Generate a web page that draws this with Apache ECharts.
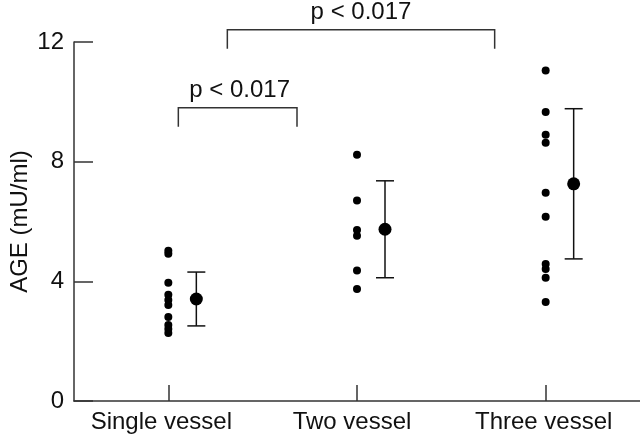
<!DOCTYPE html>
<html>
<head>
<meta charset="utf-8">
<script src="https://cdn.jsdelivr.net/npm/echarts@6/dist/echarts.min.js"></script>
<style>
  html, body { margin: 0; padding: 0; background: #fff; }
  #chart { width: 640px; height: 436px; }
</style>
</head>
<body>
<div id="chart"></div>
<script>
// groups and individual readings (mU/ml)
const categories = ['Single vessel', 'Two vessel', 'Three vessel']
const singleVessel = [5.02, 4.92, 3.95, 3.55, 3.38, 3.21, 2.81, 2.54, 2.41, 2.27]
const twoVessel = [8.23, 6.70, 5.72, 5.52, 4.36, 3.74]
const threeVessel = [11.05, 9.66, 8.90, 8.63, 6.96, 6.16, 4.58, 4.41, 4.12, 3.31]

// mean and SD range per group
const means = [3.41, 5.74, 7.26]
const upper = [4.31, 7.36, 9.77]
const lower = [2.51, 4.12, 4.75]

// significance brackets: [from group, to group, bracket level]
const brackets = [[0, 1, 9.80], [0, 2, 12.41]]
const bracketText = ['p < 0.017', 'p < 0.017']

const yMin = 0, yMax = 12, yStep = 4

// pixel layout bits (not data)
const meanShift = 28
const bracketInset = [[10, -60], [59, -51]]
const bracketDrop = 19
const labelPad = [14, 10, 4]

const font = '"Liberation Sans", Arial, Helvetica, sans-serif'
const fs = 24
const ink = '#111'

const chart = echarts.init(document.getElementById('chart'))

const groups = [singleVessel, twoVessel, threeVessel]
const dots = []
groups.forEach((g, i) => g.forEach((v) => dots.push([i, v])))

chart.setOption({
  animation: false,
  grid: { left: 74, right: 0, top: 42, bottom: 35, containLabel: false, outerBoundsMode: 'none' },
  xAxis: {
    type: 'category',
    data: categories.map((c, i) => ({ value: c, textStyle: { padding: [0, labelPad[i], 0, 0] } })),
    boundaryGap: true,
    axisLine: { lineStyle: { color: '#333', width: 1.5 } },
    axisTick: { show: true, inside: true, alignWithLabel: true, length: 16, lineStyle: { color: '#333', width: 1.5 } },
    axisLabel: { color: ink, fontSize: fs, fontFamily: font, margin: 9 },
    splitLine: { show: false }
  },
  yAxis: {
    type: 'value', min: yMin, max: yMax, interval: yStep,
    name: 'AGE (mU/ml)', nameLocation: 'middle', nameGap: 42, nameMoveOverlap: false,
    nameTextStyle: { color: ink, fontSize: fs, fontFamily: font },
    axisLine: { show: true, lineStyle: { color: '#333', width: 1.5 } },
    axisTick: { show: true, inside: true, length: 19, lineStyle: { color: '#333', width: 1.5 } },
    axisLabel: { color: ink, fontSize: fs, fontFamily: font, margin: 10 },
    splitLine: { show: false }
  },
  series: [
    {
      name: 'individual', type: 'scatter', data: dots,
      symbolSize: 8, itemStyle: { color: '#000', opacity: 1 }
    },
    {
      name: 'sd', type: 'custom',
      data: means.map((m, i) => [i, lower[i], upper[i]]),
      encode: { x: 0, y: [1, 2] },
      renderItem(params, api) {
        const lo = api.coord([api.value(0), api.value(1)])
        const hi = api.coord([api.value(0), api.value(2)])
        const x = lo[0] + meanShift
        const cap = 9
        const st = { stroke: ink, lineWidth: 1.5 }
        return {
          type: 'group',
          children: [
            { type: 'line', shape: { x1: x, y1: hi[1], x2: x, y2: lo[1] }, style: st },
            { type: 'line', shape: { x1: x - cap, y1: hi[1], x2: x + cap, y2: hi[1] }, style: st },
            { type: 'line', shape: { x1: x - cap, y1: lo[1], x2: x + cap, y2: lo[1] }, style: st }
          ]
        }
      },
      z: 2
    },
    {
      name: 'mean', type: 'scatter',
      data: means.map((m, i) => [i, m]),
      symbolSize: 13, symbolOffset: [meanShift, 0],
      itemStyle: { color: '#000', opacity: 1 }, z: 3
    },
    {
      name: 'brackets', type: 'custom',
      data: brackets,
      encode: { x: 0, y: 2 },
      clip: false,
      renderItem(params, api) {
        const i = params.dataIndex
        const a = api.coord([api.value(0), api.value(2)])
        const b = api.coord([api.value(1), api.value(2)])
        const x1 = a[0] + bracketInset[i][0]
        const x2 = b[0] + bracketInset[i][1]
        const y = a[1]
        const st = { stroke: '#333', lineWidth: 1.5, fill: null }
        return {
          type: 'group',
          children: [
            { type: 'polyline', shape: { points: [[x1, y + bracketDrop], [x1, y], [x2, y], [x2, y + bracketDrop]] }, style: st },
            {
              type: 'text',
              style: {
                text: bracketText[i], x: (x1 + x2) / 2 + (i === 0 ? 2 : 0), y: y - 5,
                align: 'center', verticalAlign: 'bottom',
                fill: ink, font: fs + 'px ' + font
              }
            }
          ]
        }
      }
    }
  ]
})
</script>
</body>
</html>
